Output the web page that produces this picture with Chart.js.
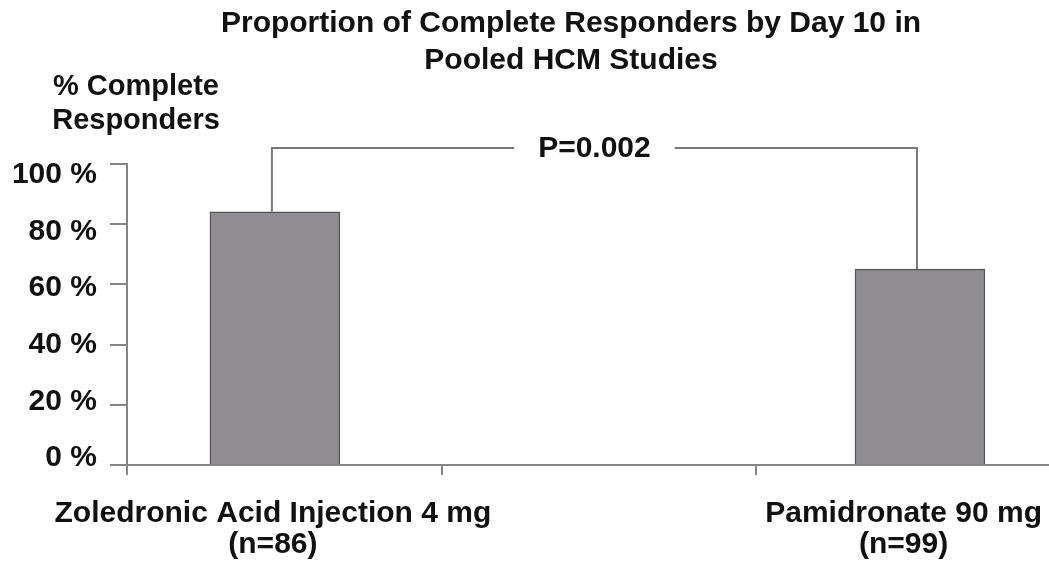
<!DOCTYPE html>
<html>
<head>
<meta charset="utf-8">
<script src="https://cdn.jsdelivr.net/npm/chart.js@4"></script>
<style>
  body { margin: 0; background: #fff; }
  #wrap { width: 1049px; height: 567px; position: relative; }
</style>
</head>
<body>
<div id="wrap"><canvas id="respChart"></canvas></div>
<script>
// data
const groupLabels = [['Zoledronic Acid Injection 4 mg', '(n=86)'], ['Pamidronate 90 mg', '(n=99)']];
const positions = [0.47, 2.52];
const responders = [84.1, 65.1];
const yTicks = [0, 20, 40, 60, 80, 100];
const xTicks = [0, 1, 2];
const pValue = 'P=0.002';
const yTitle = ['% Complete', 'Responders'];
const chartTitle = ['Proportion of Complete Responders by Day 10 in', 'Pooled HCM Studies'];

const FONT = "'Liberation Sans', Arial, sans-serif";
const LINE = '#858585';

const overlay = {
    id: 'overlay',
    afterDatasetsDraw(chart) {
        const ctx = chart.ctx;
        const bars = chart.getDatasetMeta(0).data;
        const y = chart.scales.y;
        const x = chart.scales.x;
        ctx.save();
        ctx.fillStyle = '#111';
        ctx.textAlign = 'center';
        ctx.textBaseline = 'middle';

        // title
        ctx.font = 'bold 30px ' + FONT;
        ctx.fillText(chartTitle[0], 571, 24);
        ctx.fillText(chartTitle[1], 571, 61);

        // y axis title above the axis
        ctx.font = 'bold 29px ' + FONT;
        ctx.fillText(yTitle[0], 136, 87);
        ctx.fillText(yTitle[1], 136, 121);

        // significance bracket
        const x1 = bars[0].x - 3, x2 = bars[1].x - 3;
        const top = y.top - 16;
        const mid = (x1 + x2) / 2;
        ctx.font = 'bold 30px ' + FONT;
        const gap = ctx.measureText(pValue).width / 2 + 24;
        ctx.strokeStyle = '#7a7a7a';
        ctx.lineWidth = 2;
        ctx.beginPath();
        ctx.moveTo(x1, bars[0].y);
        ctx.lineTo(x1, top);
        ctx.lineTo(mid - gap, top);
        ctx.moveTo(mid + gap, top);
        ctx.lineTo(x2, top);
        ctx.lineTo(x2, bars[1].y);
        ctx.stroke();
        ctx.fillText(pValue, mid, top + 1);

        // group labels under the bars
        ctx.textBaseline = 'alphabetic';
        bars.forEach((bar, i) => {
            const lines = groupLabels[i];
            const w = Math.max(...lines.map(l => ctx.measureText(l).width));
            const cx = Math.min(bar.x - 2, chart.chartArea.right - 7 - w / 2);
            ctx.fillText(lines[0], cx, x.bottom + 47);
            ctx.fillText(lines[1], cx, x.bottom + 78);
        });
        ctx.restore();
    }
};

new Chart(document.getElementById('respChart'), {
    type: 'bar',
    data: {
        datasets: [{
            data: positions.map((p, i) => ({ x: p, y: responders[i] })),
            backgroundColor: '#8f8d91',
            borderColor: '#555555',
            borderWidth: 1.5,
            barThickness: 130
        }]
    },
    options: {
        responsive: true,
        maintainAspectRatio: false,
        animation: false,
        layout: { padding: { left: 0, right: 0, top: 164, bottom: 92 } },
        plugins: {
            legend: { display: false },
            tooltip: { enabled: false },
            title: { display: false }
        },
        scales: {
            x: {
                type: 'linear',
                offset: false,
                min: 0,
                max: 2.93,
                afterBuildTicks: s => { s.ticks = xTicks.map(v => ({ value: v })); },
                afterFit: s => { s.height = 10; },
                ticks: { display: false },
                grid: { drawOnChartArea: false, offset: false, tickLength: 10, color: LINE, lineWidth: 2 },
                border: { color: LINE, width: 2 }
            },
            // value axis: tick marks and the axis line
            y: {
                position: 'left',
                weight: 0,
                min: 0,
                max: 100,
                afterBuildTicks: s => { s.ticks = yTicks.map(v => ({ value: v })); },
                afterFit: s => { s.width = 0; },
                ticks: { display: false },
                grid: { drawOnChartArea: false, tickLength: 17, color: LINE, lineWidth: 2 },
                border: { color: LINE, width: 2 }
            },
            // labels in the reference sit on a slightly tighter spacing than the marks
            yLabels: {
                position: 'left',
                weight: 1,
                min: -2.5,
                max: 103.9,
                afterBuildTicks: s => { s.ticks = yTicks.map(v => ({ value: v })); },
                afterFit: s => { s.width = 127; },
                ticks: {
                    padding: 30,
                    color: '#111',
                    font: { family: FONT, size: 30, weight: 'bold' },
                    callback: v => v + ' %'
                },
                grid: { display: false, tickLength: 0 },
                border: { display: false }
            }
        }
    },
    plugins: [overlay]
});
</script>
</body>
</html>
